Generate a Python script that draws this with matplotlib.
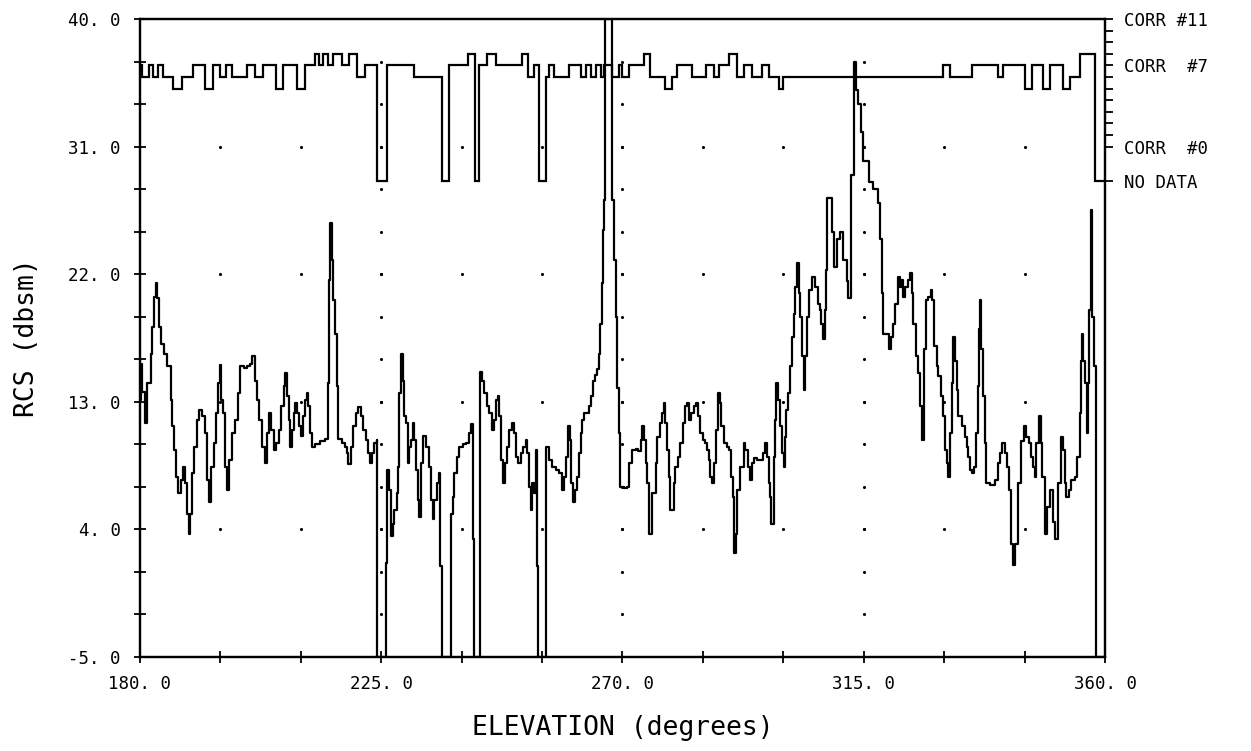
import matplotlib
matplotlib.use("Agg")
import matplotlib.pyplot as plt
import numpy as np

# ---- RCS trace (elevation in degrees, RCS in dBsm) ----
elev = [
    180.0, 180.2, 180.43, 180.93, 181.36, 181.98, 182.29, 182.6, 182.91, 183.22,
    183.53, 183.84, 184.46, 185.08, 185.7, 186.01, 186.32, 186.63, 187.13, 187.56,
    187.99, 188.37, 188.8, 189.11, 189.42, 189.73, 190.04, 190.66, 191.09, 191.59,
    192.09, 192.52, 192.95, 193.33, 193.76, 194.19, 194.57, 194.94, 195.19, 195.43,
    195.81, 196.24, 196.67, 197.17, 197.79, 198.29, 198.72, 199.34, 199.96, 200.58,
    200.89, 201.39, 201.82, 202.25, 202.75, 203.25, 203.68, 204.11, 204.49, 204.92,
    205.35, 205.85, 206.35, 206.78, 207.09, 207.4, 207.71, 208.02, 208.33, 208.64,
    208.95, 209.32, 209.69, 210.07, 210.44, 210.81, 211.12, 211.43, 211.74, 212.05,
    212.67, 213.6, 214.53, 215.03, 215.15, 215.27, 215.46, 215.77, 216.08, 216.39,
    216.7, 217.01, 217.63, 218.25, 218.56, 218.87, 219.37, 219.8, 220.23, 220.73,
    221.23, 221.66, 222.09, 222.59, 222.9, 223.21, 223.71, 224.14, 224.3,
    225.8, 226.0, 226.41, 226.84, 227.15, 227.46, 227.9, 228.14, 228.39, 228.7,
    229.01, 229.32, 229.63, 229.94, 230.25, 230.56, 230.87, 231.18, 231.49, 231.8,
    232.11, 232.43, 232.74, 233.05, 233.36, 233.85, 234.29, 234.6, 234.91, 235.34,
    235.71, 235.96, 236.33,
    238.01, 238.32, 238.63, 239.06, 239.56, 240.18, 240.8, 241.3, 241.73, 242.04,
    242.35,
    243.4, 243.5, 243.78, 244.21, 244.65, 245.14, 245.64, 246.07, 246.38, 246.76,
    247.0, 247.31, 247.62, 248.0, 248.37, 248.87, 249.36, 249.8, 250.11, 250.6,
    251.04, 251.47, 251.97, 252.28, 252.59, 252.9, 253.21, 253.52, 253.83, 254.14,
    254.33,
    255.69, 255.8, 256.31, 256.93, 257.55, 258.17, 258.67, 259.1, 259.54, 259.91,
    260.16, 260.4, 260.78, 261.15, 261.52, 261.89, 262.2, 262.51, 262.82, 263.26,
    263.76, 264.07, 264.5, 264.87, 265.31, 265.62, 265.87, 266.11, 266.36, 266.55,
    266.7, 268.0, 268.1, 268.4, 268.7, 269.0, 269.3, 269.6,
    270.27, 270.89, 271.2, 271.69, 272.13, 272.56, 272.94, 273.37, 273.68, 273.99,
    274.3, 274.61, 274.92, 275.54, 276.16, 276.47, 276.91, 277.4, 277.71, 278.02,
    278.33, 278.64, 278.95, 279.57, 279.88, 280.38, 280.81, 281.25, 281.62, 282.05,
    282.49, 282.86, 283.3, 283.73, 284.1, 284.54, 284.97, 285.47, 285.78, 286.09,
    286.4, 286.71, 287.02, 287.45, 287.82, 288.13, 288.44, 288.88, 289.5, 289.93,
    290.3, 290.62, 290.86, 291.17, 291.36, 291.98, 292.6, 292.91, 293.41, 293.84,
    294.15, 294.46, 295.08, 295.7, 296.14, 296.63, 296.94, 297.25, 297.56, 297.75,
    298.18, 298.49, 298.68, 298.99, 299.43, 299.74, 300.05, 300.23, 300.48, 300.85,
    301.29, 301.6, 301.91, 302.22, 302.53, 302.84, 303.15, 303.46, 303.77, 304.08,
    304.39, 304.7, 305.32, 305.94, 306.43, 306.8, 307.06, 307.37, 307.8, 308.0,
    308.2, 309.0, 309.5, 310.1, 310.6, 311.2, 311.8, 312.1, 312.7, 313.1,
    313.6, 314.0, 314.4, 314.9, 315.9, 316.8, 317.7, 318.1, 318.35, 318.66,
    319.28, 319.71, 320.09, 320.52, 320.83, 321.45, 321.76, 322.07, 322.38, 322.69,
    323.19, 323.62, 323.93, 324.24, 324.68, 325.05, 325.48, 325.92, 326.29, 326.54,
    327.04, 327.53, 327.78, 328.15, 328.59, 328.9, 329.39, 329.83, 330.14, 330.45,
    330.76, 331.07, 331.38, 331.69, 332.0, 332.31, 332.62, 333.24, 333.86, 334.17,
    334.48, 334.79, 335.1, 335.6, 335.91, 336.22, 336.47, 336.65, 336.96, 337.27,
    337.58, 337.89, 338.51, 339.44, 340.06, 340.37, 340.81, 341.3, 341.8, 342.05,
    342.55, 342.86, 343.17, 343.79, 344.41, 344.9, 345.34, 345.77, 346.14, 346.58,
    346.89, 347.2, 347.63, 348.0, 348.25, 348.75, 349.25, 349.68, 350.3, 350.6,
    351.23, 351.85, 352.16, 352.47, 352.78, 353.22, 353.71, 354.33, 354.83, 355.26,
    355.57, 355.76, 355.95, 356.32, 356.57, 356.82, 357.06, 357.31, 357.56, 357.93,
    358.24, 358.36, 360.0,
]
rcs = [
    13.1, 15.7, 13.7, 11.5, 14.3, 16.4, 18.3, 20.4, 21.4, 20.3,
    18.3, 17.1, 16.4, 15.5, 13.1, 11.3, 9.6, 7.7, 6.6, 7.5,
    8.4, 7.3, 5.1, 3.7, 5.1, 8.0, 9.8, 11.7, 12.4, 12.0,
    10.8, 7.5, 5.9, 8.4, 10.1, 12.2, 14.3, 15.6, 13.1, 12.2,
    8.4, 6.8, 8.9, 10.8, 11.7, 13.6, 15.5, 15.4, 15.5, 15.7,
    16.2, 14.5, 13.1, 11.7, 9.8, 8.7, 10.8, 12.2, 11.0, 9.6,
    10.1, 11.0, 12.7, 14.1, 15.0, 13.4, 11.7, 9.8, 11.0, 12.2,
    12.9, 12.2, 11.3, 10.6, 12.0, 13.1, 13.6, 12.7, 10.8, 9.8,
    10.0, 10.2, 10.4, 10.6, 14.3, 21.6, 25.6, 23.0, 20.2, 17.8,
    14.1, 10.4, 10.1, 9.8, 9.4, 8.6, 9.8, 11.3, 12.2, 12.6,
    12.0, 11.0, 10.3, 9.4, 8.7, 9.4, 10.1, 10.3, -5.0,
    1.6, 8.2, 6.8, 3.5, 4.4, 5.4, 6.6, 8.4, 13.6, 16.4,
    14.5, 12.0, 11.5, 8.7, 9.8, 10.3, 11.5, 10.3, 8.2, 6.1,
    4.9, 8.7, 10.6, 10.6, 9.8, 8.4, 6.1, 4.7, 6.1, 7.3,
    8.0, 1.4, -5.0,
    5.1, 6.3, 8.0, 9.1, 9.8, 10.0, 10.1, 10.8, 11.4, 3.3,
    -5.0,
    5.1, 15.1, 14.5, 13.6, 12.7, 12.2, 11.0, 11.7, 13.1, 13.4,
    12.0, 8.9, 7.3, 8.7, 9.8, 11.0, 11.5, 10.8, 9.1, 8.7,
    9.4, 9.8, 10.3, 9.4, 7.0, 5.4, 7.3, 6.6, 9.6, 1.4,
    -5.0,
    2.3, 9.8, 8.9, 8.4, 8.2, 8.0, 6.8, 7.7, 9.1, 11.3,
    10.3, 7.3, 5.9, 6.8, 7.7, 9.4, 10.8, 11.7, 12.2, 12.2,
    12.7, 13.4, 14.5, 14.9, 15.3, 16.4, 18.5, 21.4, 25.1, 27.2,
    40.0, 40.0, 27.2, 23.0, 19.0, 14.0, 10.8, 7.0,
    6.9, 7.0, 8.7, 9.6, 9.6, 9.7, 9.5, 10.3, 11.3, 10.3,
    8.7, 7.3, 3.7, 6.6, 8.7, 10.5, 11.5, 12.2, 12.9, 11.5,
    9.6, 7.7, 5.4, 7.3, 8.4, 9.1, 10.1, 11.5, 12.7, 12.9,
    11.7, 12.2, 12.7, 12.9, 12.0, 10.8, 10.3, 10.1, 9.6, 8.9,
    7.7, 7.3, 8.7, 11.0, 13.6, 12.9, 11.3, 10.1, 9.8, 9.6,
    7.7, 6.3, 2.3, 3.7, 6.8, 8.4, 10.1, 9.6, 8.4, 7.5,
    8.7, 9.0, 8.9, 8.9, 9.4, 10.1, 9.1, 7.3, 6.3, 4.4,
    9.1, 11.7, 14.3, 13.1, 11.3, 9.4, 8.4, 10.5, 12.4, 13.6,
    15.5, 17.6, 19.2, 21.1, 22.8, 20.7, 19.0, 16.2, 13.8, 16.2,
    19.0, 20.9, 21.8, 21.1, 19.9, 19.5, 18.5, 17.4, 19.5, 22.3,
    27.4, 25.0, 22.5, 24.5, 25.0, 23.0, 21.5, 20.3, 29.0, 37.0,
    35.0, 34.0, 32.0, 30.0, 28.5, 28.0, 27.0, 24.5, 20.7, 17.8,
    17.8, 16.7, 17.6, 18.5, 19.9, 21.8, 21.1, 21.6, 20.4, 21.1,
    21.6, 22.1, 20.7, 18.5, 16.2, 15.0, 12.7, 10.3, 16.7, 20.2,
    20.4, 20.9, 20.2, 16.9, 15.5, 14.8, 13.4, 12.0, 9.6, 8.7,
    7.7, 10.8, 14.3, 17.6, 15.9, 13.8, 12.0, 11.3, 10.5, 9.8,
    9.1, 8.2, 8.0, 8.4, 10.8, 14.1, 18.1, 20.2, 16.7, 13.4,
    10.1, 7.3, 7.1, 7.5, 8.7, 9.4, 10.1, 9.4, 8.4, 6.8,
    3.0, 1.5, 3.0, 7.3, 10.2, 11.3, 10.5, 10.1, 9.1, 8.4,
    7.7, 10.1, 12.0, 10.1, 7.7, 3.7, 5.6, 6.8, 4.5, 3.3,
    7.3, 10.5, 9.6, 7.3, 6.3, 6.8, 7.5, 7.7, 9.1, 12.2,
    15.9, 17.8, 15.9, 14.3, 10.8, 14.3, 19.5, 26.5, 19.0, 15.5,
    11.5, -5.0, -5.0,
]

# ---- Correlation status trace (level number, -3 = no data) ----
corr_edges = [
    180.0, 180.3, 181.6, 182.5, 183.4, 184.3, 186.2, 187.8, 189.9, 192.1,
    193.6, 194.9, 196.0, 197.2, 199.9, 201.5, 203.0, 205.4, 206.7, 209.2,
    210.7, 212.6, 213.4, 214.2, 215.0, 216.0, 217.6, 219.0, 220.5, 222.0,
    224.2, 226.0, 231.2, 236.4, 237.7, 241.1, 242.4, 243.3, 244.8, 246.4,
    251.3, 252.3, 253.5, 254.4, 255.7, 256.3, 257.2, 260.0, 262.2, 263.1,
    264.1, 265.0, 265.9, 266.5, 268.1, 269.3, 270.0, 271.2, 274.0, 275.2,
    278.0, 279.3, 280.2, 283.0, 285.5, 287.0, 288.0, 289.8, 291.4, 292.6,
    294.2, 296.0, 297.3, 299.1, 300.0, 329.8, 331.1, 335.1, 340.1, 341.0,
    345.0, 346.3, 348.4, 349.7, 352.2, 353.4, 355.3, 357.6, 358.2, 360.0,
]
corr_level = [
    7, 6, 7, 6, 7, 6, 5, 6, 7, 5,
    7, 6, 7, 6, 7, 6, 7, 5, 7, 5,
    7, 8, 7, 8, 7, 8, 7, 8, 6, 7,
    -3, 7, 6, -3, 7, 8, -3, 7, 8, 7,
    8, 6, 7, -3, 6, 7, 6, 7, 6, 7,
    6, 7, 6, 7, 6, 7, 6, 7, 8, 6,
    5, 6, 7, 6, 7, 6, 7, 8, 6, 7,
    6, 7, 6, 5, 6, 7, 6, 7, 6, 7,
    5, 7, 5, 7, 5, 6, 8, 8, -3,
]

# ---- Axis scales and labels ----
x_range = (180.0, 360.0)
y_range = (-5.0, 40.0)
x_major = [180.0, 225.0, 270.0, 315.0, 360.0]
y_major = [-5.0, 4.0, 13.0, 22.0, 31.0, 40.0]
x_step = 15.0
y_step = 3.0
corr_ticks = [-3, 0, 1, 2, 3, 4, 5, 6, 7, 8, 9, 10, 11]
corr_labels = {11: "CORR #11", 7: "CORR  #7", 0: "CORR  #0", -3: "NO DATA"}
corr_base = 31.0          # RCS value where level #0 sits
corr_unit = 9.0 / 11.0    # RCS units per correlation level

mono = "DejaVu Sans Mono"
ink = "black"

fig = plt.figure(figsize=(12.51, 7.51), dpi=100)
ax = fig.add_axes([0.1119, 0.1252, 0.7714, 0.8495])
ax.set_xlim(*x_range)
ax.set_ylim(*y_range)

# dotted grid: dots at minor spacing along the interior major lines
x_minor = np.arange(x_range[0], x_range[1] + 0.1, x_step)
y_minor = np.arange(y_range[0], y_range[1] + 0.1, y_step)
gx, gy = [], []
for yv in y_major[1:-1]:
    for xv in x_minor[1:-1]:
        gx.append(xv); gy.append(yv)
for xv in x_major[1:-1]:
    for yv in y_minor[1:-1]:
        gx.append(xv); gy.append(yv)
ax.scatter(gx, gy, s=5, color=ink, linewidths=0, zorder=1)

# RCS trace
ax.plot(elev, rcs, drawstyle="steps-post", color=ink, lw=1.6, zorder=3,
        clip_on=True)

# correlation trace on a right-hand scale
axr = ax.twinx()
lo = (y_range[0] - corr_base) / corr_unit
hi = (y_range[1] - corr_base) / corr_unit
axr.set_ylim(lo, hi)
axr.stairs(corr_level, corr_edges, color=ink, lw=1.6, baseline=None, zorder=3)
axr.set_yticks(corr_ticks)
axr.set_yticklabels([corr_labels.get(t, "") for t in corr_ticks],
                    fontfamily=mono, fontsize=12.5)
axr.tick_params(axis="y", direction="out", length=6, width=1.3, pad=8,
                colors=ink)

# main ticks
ax.set_xticks(x_minor)
ax.set_xticklabels([f"{v:.1f}".replace(".", ". ") if v in x_major else ""
                    for v in x_minor], fontfamily=mono, fontsize=12.5)
ax.set_yticks(y_minor)
ax.set_yticklabels([f"{v:.1f}".replace(".", ". ") if v in y_major else ""
                    for v in y_minor], fontfamily=mono, fontsize=12.5)
ax.tick_params(axis="both", direction="inout", length=8, width=1.3,
               colors=ink)
ax.tick_params(axis="x", pad=9)
ax.tick_params(axis="y", pad=10)

for a in (ax, axr):
    for s in a.spines.values():
        s.set_linewidth(1.6)
        s.set_color(ink)

ax.set_xlabel("ELEVATION (degrees)", fontfamily=mono, fontsize=19, labelpad=16)
ax.set_ylabel("RCS (dbsm)", fontfamily=mono, fontsize=19, labelpad=20)

fig.savefig("out.png", dpi=100, facecolor="white")
